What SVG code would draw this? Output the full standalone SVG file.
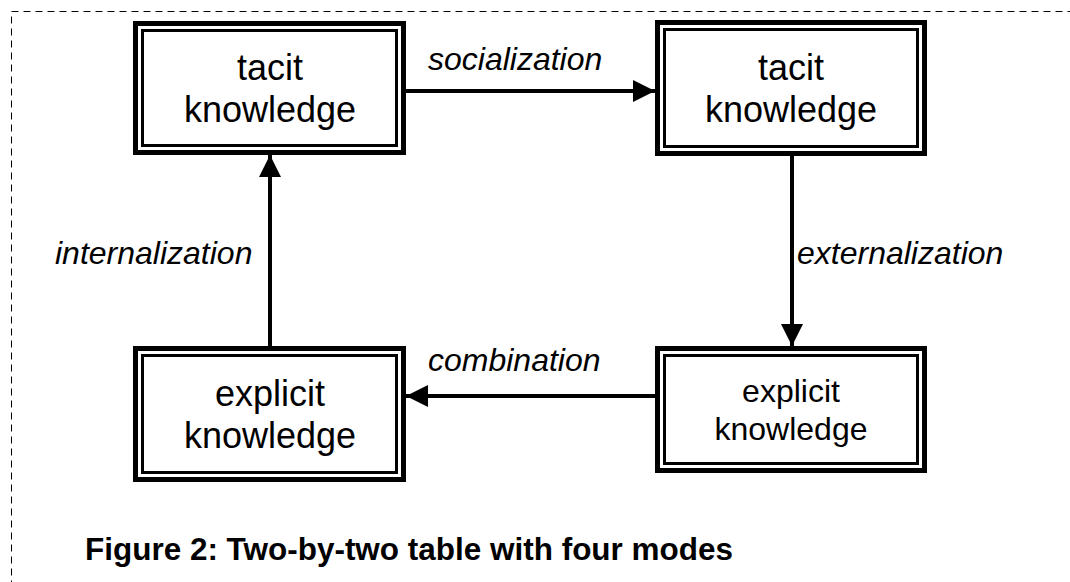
<svg xmlns="http://www.w3.org/2000/svg" width="1070" height="582" viewBox="0 0 1070 582">
<defs>
<style>
.outer{fill:#fff;stroke:#000;stroke-width:5}
.inner{fill:none;stroke:#000;stroke-width:3}
.nt{font-family:"Liberation Sans",Arial,sans-serif;font-size:36px;fill:#000;text-anchor:middle}
.lb{font-family:"Liberation Sans",Arial,sans-serif;font-size:32px;font-style:italic;fill:#000}
.edge{stroke:#000;stroke-width:4;fill:none;marker-end:url(#ah)}
</style>
<marker id="ah" viewBox="0 0 22 22" refX="22" refY="11" markerWidth="22" markerHeight="22" markerUnits="userSpaceOnUse" orient="auto">
<path d="M0,0 L22,11 L0,22 Z" fill="#000"/>
</marker>
</defs>
<rect width="1070" height="582" fill="#fff"/>
<rect x="11.5" y="11.5" width="1080" height="600" fill="none" stroke="#000" stroke-width="1" stroke-dasharray="7,5"/>
<g id="connectors">
<line class="edge" x1="406" y1="91" x2="655" y2="91"/>
<line class="edge" x1="792" y1="156" x2="792" y2="346"/>
<line class="edge" x1="655" y1="396" x2="406" y2="396"/>
<line class="edge" x1="270" y1="346" x2="270" y2="155"/>
<text class="lb" x="428" y="70">socialization</text>
<text class="lb" x="797" y="264">externalization</text>
<text class="lb" x="55" y="264">internalization</text>
<text class="lb" x="428" y="371">combination</text>
</g>
<g id="tl">
<rect class="outer" x="135.5" y="23.5" width="268" height="129"/>
<rect class="inner" x="142.5" y="30.5" width="254" height="115"/>
<text class="nt" x="270" y="80">tacit</text>
<text class="nt" x="270" y="122">knowledge</text>
</g>
<g id="tr">
<rect class="outer" x="657.5" y="22.5" width="267" height="131"/>
<rect class="inner" x="664.5" y="29.5" width="253" height="117"/>
<text class="nt" x="791" y="80">tacit</text>
<text class="nt" x="791" y="122">knowledge</text>
</g>
<g id="br">
<rect class="outer" x="657.5" y="348.5" width="267" height="122"/>
<rect class="inner" x="664.5" y="355.5" width="253" height="108"/>
<text class="nt" x="791" y="402" style="font-size:32px">explicit</text>
<text class="nt" x="791" y="440" style="font-size:32px">knowledge</text>
</g>
<g id="bl">
<rect class="outer" x="135.5" y="348.5" width="268" height="131"/>
<rect class="inner" x="142.5" y="355.5" width="254" height="117"/>
<text class="nt" x="270" y="406">explicit</text>
<text class="nt" x="270" y="448">knowledge</text>
</g>
<text x="85" y="560" textLength="648" lengthAdjust="spacingAndGlyphs" style="font-family:'Liberation Sans',Arial,sans-serif;font-size:31px;font-weight:bold">Figure 2: Two-by-two table with four modes</text>
</svg>
